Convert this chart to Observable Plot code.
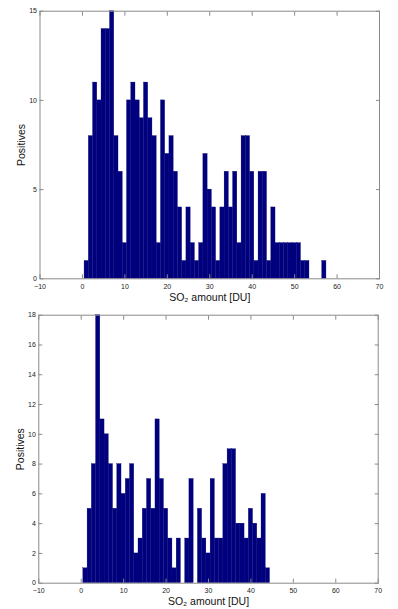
<!DOCTYPE html>
<html>
<head>
<meta charset="utf-8">
<script src="https://cdn.jsdelivr.net/npm/d3@7"></script>
<script src="https://cdn.jsdelivr.net/npm/@observablehq/plot@0.6"></script>
<style>
  html, body { margin: 0; padding: 0; background: #fff; }
  #wrap { width: 398px; }
  svg { display: block; }
</style>
</head>
<body>
<div id="wrap"></div>
<script>
// Histogram bins: 1 DU wide, centred on integers starting at 1 DU
const firstBinCenter = 1;
const binWidth = 1;

// Upper panel counts (bins centred at 1, 2, ..., 57 DU)
const topCounts = [1, 8, 11, 10, 14, 14, 15, 8, 6, 2,
                   10, 11, 10, 9, 11, 9, 8, 2, 10, 7,
                   8, 6, 4, 1, 4, 2, 1, 2, 7, 5,
                   4, 1, 4, 6, 4, 6, 2, 8, 8, 6,
                   1, 6, 6, 1, 4, 2, 2, 2, 2, 2,
                   2, 1, 1, 0, 0, 0, 1];

// Lower panel counts (bins centred at 1, 2, ..., 44 DU)
const bottomCounts = [1, 5, 8, 18, 11, 10, 8, 5, 8, 6,
                      7, 8, 2, 3, 5, 7, 5, 11, 7, 5,
                      3, 1, 3, 0, 3, 7, 0, 5, 3, 2,
                      7, 3, 3, 8, 9, 9, 4, 4, 3, 5,
                      4, 3, 6, 1];

const xTicks = [-10, 0, 10, 20, 30, 40, 50, 60, 70];
const xDomain = [-10, 70];
const topYTicks = [0, 5, 10, 15];
const topYDomain = [0, 15];
const bottomYTicks = [0, 2, 4, 6, 8, 10, 12, 14, 16, 18];
const bottomYDomain = [0, 18];

const xLabel = "SO\u2082 amount [DU]";
const yLabel = "Positives";

function toBins(counts) {
  return counts.map((c, i) => {
    const center = firstBinCenter + i * binWidth;
    return {x1: center - binWidth / 2, x2: center + binWidth / 2, count: c};
  });
}

function panel(counts, yTicks, yDomain, dims) {
  const frameColor = "#8a8a8a";
  return Plot.plot({
    width: 398,
    height: dims.height,
    marginTop: dims.top,
    marginBottom: dims.bottom,
    marginLeft: dims.left,
    marginRight: dims.right,
    style: {fontFamily: "'Liberation Sans', Arial, sans-serif", background: "#fff", color: "#222"},
    x: {domain: xDomain, ticks: xTicks},
    y: {domain: yDomain, ticks: yTicks},
    marks: [
      Plot.rectY(toBins(counts).filter(d => d.count > 0), {
        x1: "x1", x2: "x2", y: "count",
        fill: "#00007f", stroke: "#000070", strokeWidth: 0.3
      }),
      Plot.frame({stroke: frameColor, strokeWidth: 1}),
      // labels
      Plot.axisX({ticks: xTicks, tickSize: 0, tickPadding: 5, fontSize: 7,
                  label: xLabel, labelAnchor: "center", labelArrow: "none", labelOffset: 22}),
      Plot.axisY({ticks: yTicks, tickSize: 0, tickPadding: 3, fontSize: 7,
                  label: yLabel, labelAnchor: "center", labelArrow: "none", labelOffset: 22}),
      // inward ticks on all sides
      Plot.axisX({ticks: xTicks, anchor: "bottom", tickSize: -4, stroke: frameColor, tickFormat: () => "", label: null}),
      Plot.axisX({ticks: xTicks, anchor: "top", tickSize: -4, stroke: frameColor, tickFormat: () => "", label: null}),
      Plot.axisY({ticks: yTicks, anchor: "left", tickSize: -4, stroke: frameColor, tickFormat: () => "", label: null}),
      Plot.axisY({ticks: yTicks, anchor: "right", tickSize: -4, stroke: frameColor, tickFormat: () => "", label: null})
    ]
  });
}

const wrap = document.getElementById("wrap");
wrap.append(panel(topCounts, topYTicks, topYDomain,
  {height: 304, top: 10.7, bottom: 25.7, left: 39.5, right: 19}));
wrap.append(panel(bottomCounts, bottomYTicks, bottomYDomain,
  {height: 305, top: 10.7, bottom: 26.3, left: 38.3, right: 20.3}));

// style axis label text
wrap.querySelectorAll("svg").forEach(svg => {
  svg.querySelectorAll("g[aria-label='x-axis label'] text, g[aria-label='y-axis label'] text").forEach(t => {
    t.setAttribute("font-size", "10.5");
    t.setAttribute("fill", "#111");
  });
});
</script>
</body>
</html>
